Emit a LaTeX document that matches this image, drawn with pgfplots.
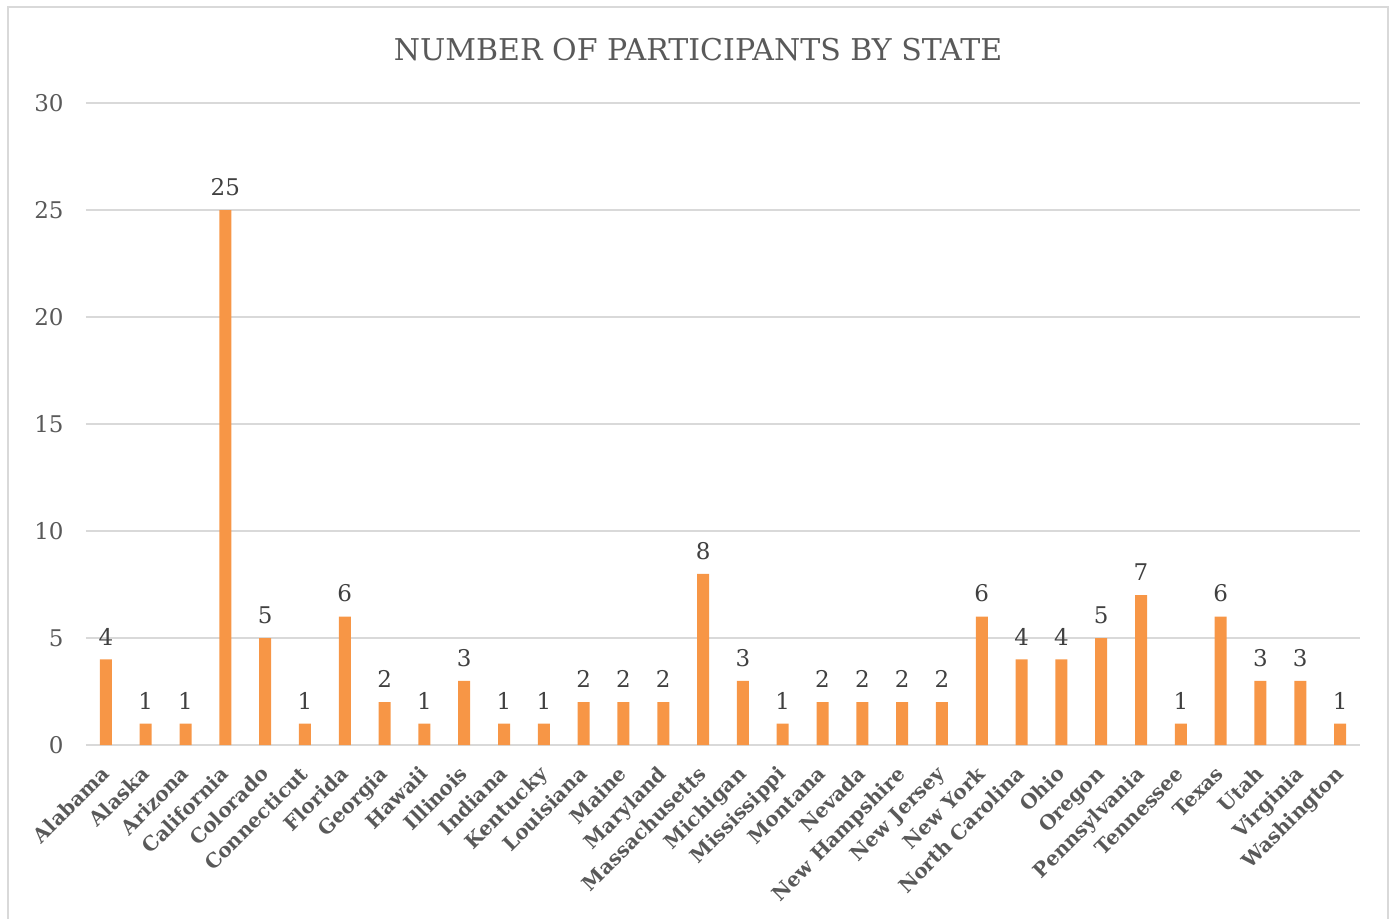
\documentclass[border=0pt]{standalone}
\usepackage{fontspec}
\setmainfont{DejaVu Serif}
\usepackage{pgfplots}
\pgfplotsset{compat=1.18}
\definecolor{barc}{HTML}{F79646}
\definecolor{txt}{HTML}{595959}
\definecolor{lbl}{HTML}{404040}
\definecolor{gridc}{HTML}{D9D9D9}
\begin{document}
\begin{tikzpicture}[x=1pt,y=1pt]
\path[use as bounding box] (0,0) rectangle (696.5,459);
\draw[gridc, line width=1pt] (4,-2) -- (4,455.5) -- (694,455.5) -- (694,-2);
\node[txt, font=\fontsize{15}{18}\selectfont] at (349,434) {NUMBER OF PARTICIPANTS BY STATE};
\begin{axis}[
  at={(43pt,86.5pt)}, anchor=south west,
  scale only axis, width=637pt, height=321pt,
  xmin=-0.5, xmax=31.5, ymin=0, ymax=30,
  ytick={0,5,...,30},
  xtick=data,
  xticklabels={Alabama,Alaska,Arizona,California,Colorado,Connecticut,Florida,Georgia,Hawaii,Illinois,Indiana,Kentucky,Louisiana,Maine,Maryland,Massachusetts,Michigan,Mississippi,Montana,Nevada,New Hampshire,New Jersey,New York,North Carolina,Ohio,Oregon,Pennsylvania,Tennessee,Texas,Utah,Virginia,Washington},
  axis line style={draw=none},
  major tick length=0pt,
  ymajorgrids, grid style={gridc, line width=0.8pt},
  yticklabel style={txt, font=\fontsize{11.5}{12}\selectfont, inner sep=0pt, xshift=-11pt},
  xticklabel style={txt, font=\bfseries\fontsize{10}{12}\selectfont, rotate=45, anchor=north east, inner sep=0pt, xshift=-9pt, yshift=-4.6pt},
  /pgf/number format/assume math mode=true,
  nodes near coords,
  nodes near coords style={lbl, font=\fontsize{11.5}{12}\selectfont, inner sep=0pt, yshift=7pt},
]
\addplot[ybar, bar width=6pt, fill=barc, draw=none] table {
x y
0 4
1 1
2 1
3 25
4 5
5 1
6 6
7 2
8 1
9 3
10 1
11 1
12 2
13 2
14 2
15 8
16 3
17 1
18 2
19 2
20 2
21 2
22 6
23 4
24 4
25 5
26 7
27 1
28 6
29 3
30 3
31 1
};
\end{axis}
\end{tikzpicture}
\end{document}
